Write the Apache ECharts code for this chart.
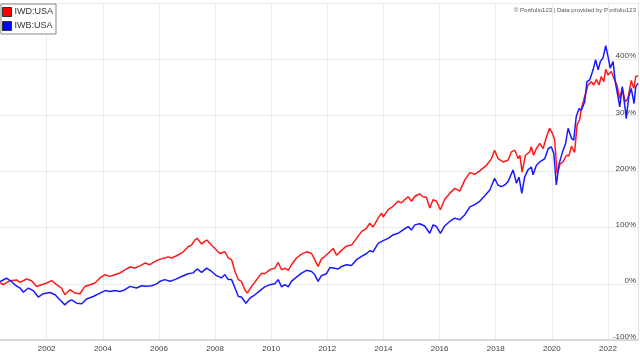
<!DOCTYPE html>
<html><head><meta charset="utf-8">
<script src="https://cdn.jsdelivr.net/npm/echarts@6/dist/echarts.min.js"></script>
<style>html,body{margin:0;padding:0;background:#fff}#c{width:640px;height:355px}</style>
</head><body><div id="c"></div>
<script>
const seriesNames = ['IWD:USA', 'IWB:USA'];
const yearTicks = [2002, 2004, 2006, 2008, 2010, 2012, 2014, 2016, 2018, 2020, 2022];
const iwdDates = [2000.34,2000.46,2000.69,2000.93,2001.05,2001.29,2001.46,2001.64,2001.82,2002.00,2002.18,2002.36,2002.53,2002.65,2002.83,2003.01,2003.19,2003.36,2003.54,2003.72,2003.90,2004.08,2004.25,2004.43,2004.61,2004.79,2004.97,2005.14,2005.32,2005.50,2005.68,2005.86,2006.04,2006.21,2006.33,2006.45,2006.63,2006.87,2007.04,2007.16,2007.28,2007.36,2007.52,2007.70,2007.82,2007.99,2008.17,2008.35,2008.47,2008.59,2008.71,2008.83,2008.94,2009.06,2009.15,2009.30,2009.48,2009.66,2009.77,2009.95,2010.13,2010.25,2010.37,2010.49,2010.61,2010.72,2010.90,2011.08,2011.26,2011.44,2011.55,2011.67,2011.79,2011.91,2012.09,2012.21,2012.33,2012.51,2012.68,2012.86,2013.04,2013.22,2013.40,2013.51,2013.63,2013.81,2013.93,2013.99,2014.17,2014.34,2014.52,2014.64,2014.76,2014.88,2015.00,2015.12,2015.29,2015.41,2015.53,2015.65,2015.77,2015.89,2016.03,2016.18,2016.36,2016.54,2016.72,2016.90,2017.08,2017.25,2017.43,2017.55,2017.67,2017.85,2017.96,2018.08,2018.26,2018.44,2018.56,2018.68,2018.80,2018.86,2018.94,2019.06,2019.21,2019.27,2019.35,2019.45,2019.57,2019.69,2019.81,2019.92,2020.02,2020.10,2020.19,2020.30,2020.40,2020.52,2020.61,2020.70,2020.81,2020.90,2020.99,2021.05,2021.17,2021.29,2021.41,2021.49,2021.59,2021.68,2021.76,2021.85,2021.92,2022.00,2022.12,2022.24,2022.32,2022.42,2022.51,2022.62,2022.71,2022.83,2022.92,2022.99,2023.07];
const iwdValues = [2,-1.6,5.6,7,2.6,8.6,5.6,-4.6,-1.6,1.4,5.6,-1.6,-7.5,-19.5,-10.5,-16.5,-17.7,-4.6,-1.6,1.4,10.4,16.3,13.3,16.3,19.3,25,30,28.3,32,37,34,40,44,46,48,46,50,57,66,69,78,81,71,78,72,63,54,57,46,43,22,7.4,4.4,-10.5,-16.5,-4.6,7.4,19,18,25,28,38,25,28,24,34,46,53,57,54,43,31,44,49,57,63,51,60,67,69,81,93,99,108,101,117,126,119,132,138,147,144,150,155,147,156,160,155,154,135,150,147,132,150,161,170,165,185,198,195,201,206,211,223,238,223,217,220,235,238,223,229,199,229,235,244,229,241,250,241,262,277,268,256,196,214,217,229,228,245,234,283,292,312,333,354,360,354,364,354,369,360,382,372,378,363,354,330,348,324,330,362,348,369,370];
const iwbDates = [2000.34,2000.57,2000.75,2000.87,2001.05,2001.17,2001.35,2001.52,2001.70,2001.88,2002.12,2002.30,2002.47,2002.65,2002.77,2002.89,2003.07,2003.25,2003.42,2003.66,2003.90,2004.08,2004.25,2004.43,2004.61,2004.79,2004.97,2005.20,2005.38,2005.56,2005.74,2005.92,2006.04,2006.21,2006.39,2006.57,2006.81,2007.04,2007.22,2007.36,2007.52,2007.70,2007.88,2008.05,2008.23,2008.35,2008.47,2008.59,2008.71,2008.83,2008.94,2009.10,2009.24,2009.42,2009.60,2009.77,2009.95,2010.13,2010.25,2010.37,2010.49,2010.61,2010.72,2010.90,2011.08,2011.26,2011.44,2011.55,2011.67,2011.79,2011.97,2012.09,2012.21,2012.39,2012.51,2012.68,2012.86,2013.04,2013.22,2013.40,2013.51,2013.63,2013.81,2013.99,2014.17,2014.34,2014.52,2014.70,2014.88,2015.00,2015.12,2015.29,2015.47,2015.65,2015.77,2015.89,2016.03,2016.18,2016.36,2016.54,2016.72,2016.90,2017.08,2017.25,2017.43,2017.61,2017.79,2017.96,2018.08,2018.20,2018.32,2018.44,2018.62,2018.74,2018.83,2018.93,2019.03,2019.15,2019.27,2019.33,2019.45,2019.57,2019.75,2019.87,2019.98,2020.07,2020.16,2020.26,2020.40,2020.49,2020.58,2020.70,2020.78,2020.87,2020.97,2021.05,2021.17,2021.25,2021.35,2021.47,2021.56,2021.65,2021.73,2021.82,2021.92,2022.00,2022.08,2022.18,2022.26,2022.33,2022.42,2022.51,2022.62,2022.65,2022.74,2022.83,2022.93,2022.99,2023.07];
const iwbValues = [4,10,4,-2,-7.5,-15,-7.5,-12,-23.5,-17.5,-15.5,-19.5,-28.5,-37.5,-31.5,-28.5,-34.5,-35.5,-27,-22.5,-16.5,-12,-13.5,-12,-13.5,-10.5,-4.5,-7.5,-3.5,-4.5,-3.5,0,4.5,7.5,4.5,7.5,13,18,19.5,26.5,20.5,28,22,14.5,10.5,16.5,7.5,7.5,-7.5,-22.5,-23.5,-34.5,-25.5,-19.5,-12,-5.5,-1.5,0,7.5,-5.5,-1.5,-5.5,4.5,12,19,24,22,16.5,4.5,14.5,18,29,28,26.5,31,34,32.5,43,49,54,59,57,72,77,81,87,90,96,102,96,105,107,103,90,105,102,90,103,111,117,114,123,137,141,147,157,167,188,176,173,176,182,203,179,190,161,190,203,208,194,211,217,223,241,244,232,176,214,238,250,277,259,256,298,312,309,324,360,363,381,399,381,396,402,424,405,384,396,360,357,315,351,309,294,333,348,321,351,357];
const yTicks = {min: -100, max: 500, step: 100};

const zip = (xs, ys) => xs.map((x, i) => [x, ys[i]]);
const FONT = 'Liberation Sans, Arial, sans-serif';
const chart = echarts.init(document.getElementById('c'), null, {renderer: 'canvas'});
chart.setOption({
  animation: false,
  backgroundColor: '#ffffff',
  grid: {left: 0, right: 2, top: 3, bottom: 15, containLabel: false},
  graphic: [{
    type: 'text', right: 4, top: 7,
    style: {text: '\u00a9 Portfolio123 | Data provided by Portfolio123', fill: '#555', fontSize: 6, fontFamily: FONT}
  }],
  legend: {
    left: 1, top: 4, orient: 'vertical',
    itemWidth: 9, itemHeight: 9, itemGap: 4,
    padding: [3, 3, 3, 1],
    borderColor: '#888', borderWidth: 1, backgroundColor: '#fff',
    textStyle: {fontSize: 9, color: '#333', fontFamily: FONT, padding: [0, 0, 0, -2]},
    data: [
      {name: seriesNames[0], icon: 'rect', itemStyle: {color: '#ff0000', borderColor: '#333', borderWidth: 1}},
      {name: seriesNames[1], icon: 'rect', itemStyle: {color: '#0000ff', borderColor: '#333', borderWidth: 1}}
    ]
  },
  xAxis: {
    type: 'value', min: 2000.337, max: 2023.07,
    axisLine: {show: true, onZero: false, lineStyle: {color: '#d9d9d9', width: 2}},
    axisTick: {show: false, customValues: yearTicks},
    axisLabel: {customValues: yearTicks, formatter: v => String(v), fontSize: 8, color: '#444', margin: 5, fontFamily: FONT},
    splitLine: {show: true, lineStyle: {color: '#ebebeb', width: 1}}
  },
  yAxis: {
    type: 'value', position: 'right', min: yTicks.min, max: yTicks.max, interval: yTicks.step,
    axisLine: {show: true, lineStyle: {color: '#e3e3e3', width: 1}},
    axisTick: {show: false},
    axisLabel: {inside: true, margin: 2, formatter: '{value}%', fontSize: 8, color: '#444', fontFamily: FONT,
      showMaxLabel: false, verticalAlign: 'bottom', lineHeight: 6},
    splitLine: {show: true, lineStyle: {color: '#ebebeb', width: 1}}
  },
  series: [
    {name: seriesNames[0], type: 'line', data: zip(iwdDates, iwdValues), showSymbol: false, symbol: 'none',
      lineStyle: {color: '#ff1a1a', width: 1.5}, itemStyle: {color: '#ff0000'}},
    {name: seriesNames[1], type: 'line', data: zip(iwbDates, iwbValues), showSymbol: false, symbol: 'none',
      lineStyle: {color: '#1a1aff', width: 1.5}, itemStyle: {color: '#0000ff'}}
  ]
});
</script></body></html>
